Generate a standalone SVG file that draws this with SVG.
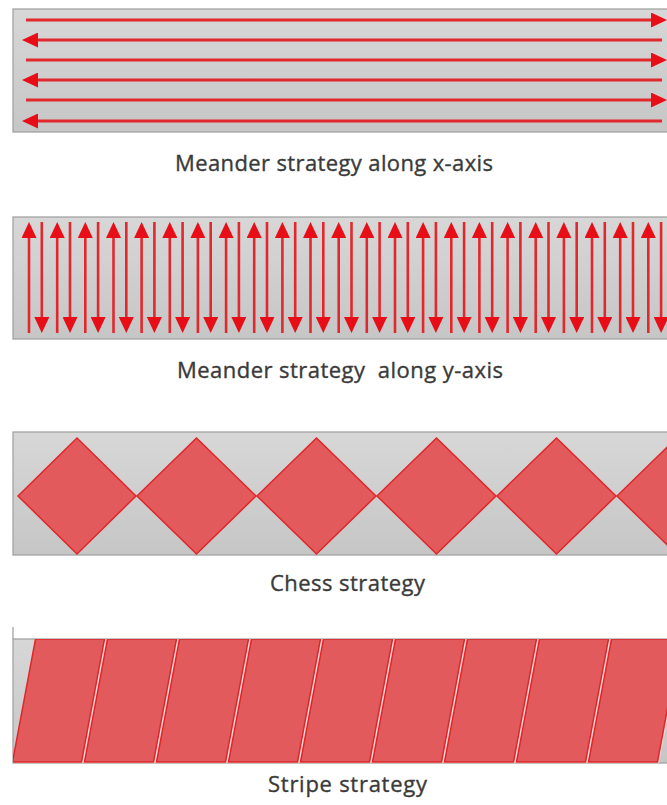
<svg xmlns="http://www.w3.org/2000/svg" width="667" height="805" viewBox="0 0 667 805">
<style>
.panel{stroke:#a4a4a4;stroke-width:1.3;fill:url(#pg)}
.arr{stroke:#e2282c;stroke-width:3;fill:none;marker-end:url(#ah)}
.varr{stroke:#e2282c;stroke-width:2.6;fill:none;marker-end:url(#ah)}
.dia{fill:#e25a5c;stroke:#e0262a;stroke-width:1.5}
.stripe{fill:#e25a5c;stroke:#e0262a;stroke-width:1.5}
.lbl{font-family:"Open Sans","Noto Sans","DejaVu Sans",sans-serif;font-size:22px;fill:#3a3a3a;stroke:#3a3a3a;stroke-width:0.35}
</style>
<defs>
<linearGradient id="pg" x1="0" y1="0" x2="0" y2="1">
<stop offset="0" stop-color="#d7d7d7"/>
<stop offset="1" stop-color="#c6c6c6"/>
</linearGradient>
<marker id="ah" viewBox="0 0 16 15" refX="0" refY="7.5" markerWidth="16" markerHeight="15" markerUnits="userSpaceOnUse" orient="auto">
<path d="M0,0 L16,7.5 L0,15 z" fill="#e80e18"/>
</marker>
<clipPath id="c4"><rect x="13" y="639" width="680" height="124"/></clipPath>
</defs>
<rect width="667" height="805" fill="#ffffff"/>

<g id="panel-x">
<rect class="panel" x="13" y="9" width="680" height="123"/>
</g>
<g id="panel-y">
<rect class="panel" x="13" y="217" width="680" height="122"/>
</g>
<g id="panel-chess">
<rect class="panel" x="13" y="432" width="680" height="123"/>
<polygon class="dia" points="18,496 77,438 136,496 77,554"/>
<polygon class="dia" points="137,496 196.5,438 256,496 196.5,554"/>
<polygon class="dia" points="257,496 316.5,438 376,496 316.5,554"/>
<polygon class="dia" points="377,496 436.5,438 496,496 436.5,554"/>
<polygon class="dia" points="497,496 556.5,438 616,496 556.5,554"/>
<polygon class="dia" points="617,496 676.5,438 736,496 676.5,554"/>
</g>
<g id="panel-stripe">
<line x1="13" y1="627" x2="13" y2="639" stroke="#a4a4a4" stroke-width="1.3"/>
<rect class="panel" x="13" y="639" width="680" height="124"/>
<g clip-path="url(#c4)">
<polygon points="35,639 682,639 659,763 12,763" fill="#f3dcdc"/>
<polygon class="stripe" points="35.5,639 104.5,639 81.5,762 12.5,762"/>
<polygon class="stripe" points="107.5,639 176.5,639 153.5,762 84.5,762"/>
<polygon class="stripe" points="179.5,639 248.5,639 225.5,762 156.5,762"/>
<polygon class="stripe" points="251.5,639 320.5,639 297.5,762 228.5,762"/>
<polygon class="stripe" points="323.5,639 392.5,639 369.5,762 300.5,762"/>
<polygon class="stripe" points="395.5,639 464.5,639 441.5,762 372.5,762"/>
<polygon class="stripe" points="467.5,639 536.5,639 513.5,762 444.5,762"/>
<polygon class="stripe" points="539.5,639 608.5,639 585.5,762 516.5,762"/>
<polygon class="stripe" points="611.5,639 680.5,639 657.5,762 588.5,762"/>
</g>
</g>

<g id="connectors">
<path class="arr" d="M26,20 H651"/>
<path class="arr" d="M662,40 H38"/>
<path class="arr" d="M26,60 H651"/>
<path class="arr" d="M662,80 H38"/>
<path class="arr" d="M26,100 H651"/>
<path class="arr" d="M662,121 H38"/>

<path class="varr" d="M29,333 V238"/><path class="varr" d="M41.8,222 V317"/>
<path class="varr" d="M57.2,333 V238"/><path class="varr" d="M70,222 V317"/>
<path class="varr" d="M85.3,333 V238"/><path class="varr" d="M98.1,222 V317"/>
<path class="varr" d="M113.5,333 V238"/><path class="varr" d="M126.3,222 V317"/>
<path class="varr" d="M141.6,333 V238"/><path class="varr" d="M154.4,222 V317"/>
<path class="varr" d="M169.8,333 V238"/><path class="varr" d="M182.6,222 V317"/>
<path class="varr" d="M197.9,333 V238"/><path class="varr" d="M210.7,222 V317"/>
<path class="varr" d="M226.1,333 V238"/><path class="varr" d="M238.9,222 V317"/>
<path class="varr" d="M254.2,333 V238"/><path class="varr" d="M267,222 V317"/>
<path class="varr" d="M282.4,333 V238"/><path class="varr" d="M295.2,222 V317"/>
<path class="varr" d="M310.5,333 V238"/><path class="varr" d="M323.3,222 V317"/>
<path class="varr" d="M338.7,333 V238"/><path class="varr" d="M351.5,222 V317"/>
<path class="varr" d="M366.8,333 V238"/><path class="varr" d="M379.6,222 V317"/>
<path class="varr" d="M395,333 V238"/><path class="varr" d="M407.8,222 V317"/>
<path class="varr" d="M423.1,333 V238"/><path class="varr" d="M435.9,222 V317"/>
<path class="varr" d="M451.3,333 V238"/><path class="varr" d="M464.1,222 V317"/>
<path class="varr" d="M479.4,333 V238"/><path class="varr" d="M492.2,222 V317"/>
<path class="varr" d="M507.6,333 V238"/><path class="varr" d="M520.4,222 V317"/>
<path class="varr" d="M535.7,333 V238"/><path class="varr" d="M548.5,222 V317"/>
<path class="varr" d="M563.9,333 V238"/><path class="varr" d="M576.7,222 V317"/>
<path class="varr" d="M592,333 V238"/><path class="varr" d="M604.8,222 V317"/>
<path class="varr" d="M620.2,333 V238"/><path class="varr" d="M633,222 V317"/>
<path class="varr" d="M648.3,333 V238"/><path class="varr" d="M661.1,222 V317"/>
</g>

<g id="labels">
<text class="lbl" x="175" y="171" textLength="318" lengthAdjust="spacing">Meander strategy along x-axis</text>
<text class="lbl" x="177" y="378" textLength="326" lengthAdjust="spacing" xml:space="preserve">Meander strategy  along y-axis</text>
<text class="lbl" x="270" y="591" textLength="155" lengthAdjust="spacing">Chess strategy</text>
<text class="lbl" x="268" y="792" textLength="159" lengthAdjust="spacing">Stripe strategy</text>
</g>
</svg>
